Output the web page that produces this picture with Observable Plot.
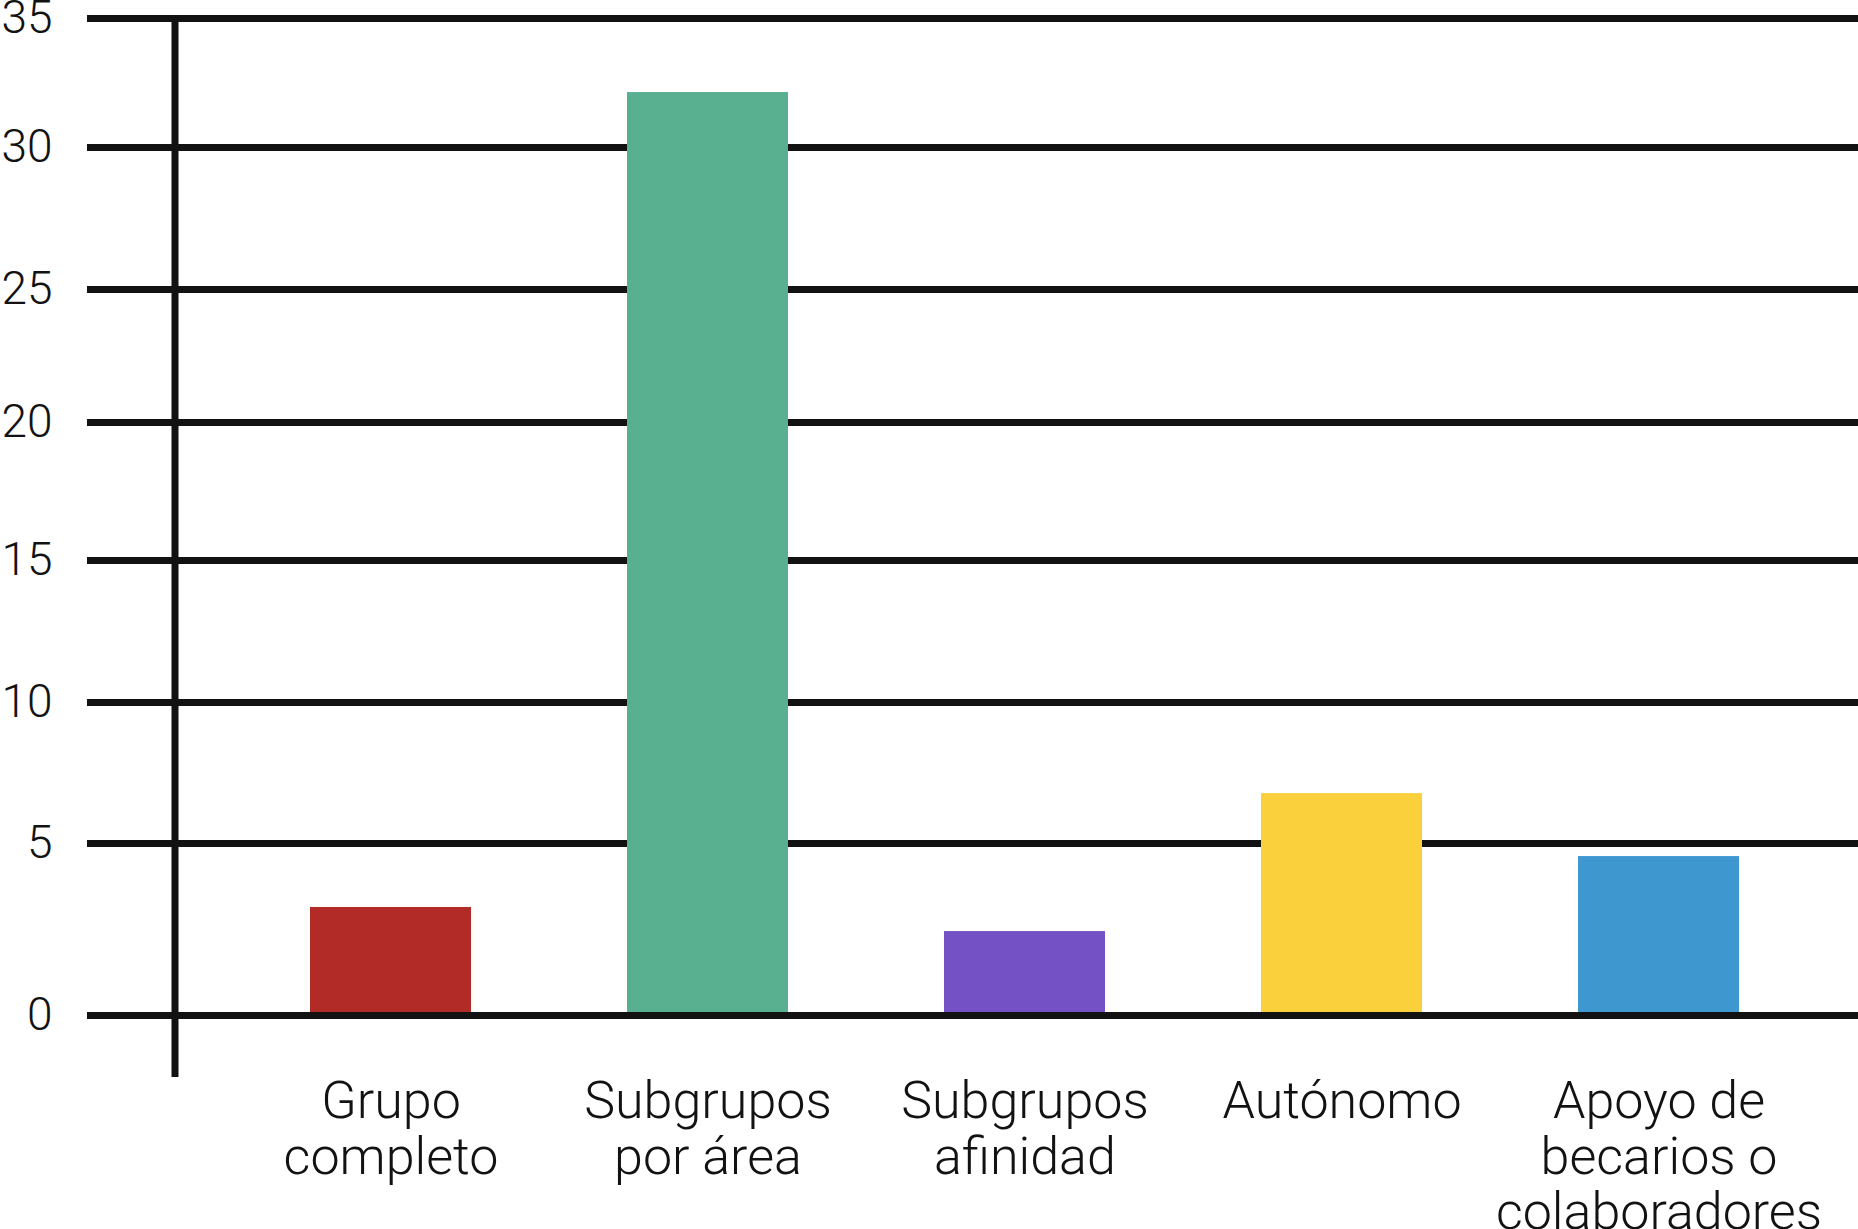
<!DOCTYPE html>
<html>
<head>
<meta charset="utf-8">
<script src="https://cdn.jsdelivr.net/npm/d3@7"></script>
<script src="https://cdn.jsdelivr.net/npm/@observablehq/plot@0.6"></script>
<style>
  html, body { margin: 0; padding: 0; background: #fff; }
  svg { display: block; }
</style>
</head>
<body>
<div id="chart"></div>
<script>
// Data
const categories = ["Grupo completo", "Subgrupos por área", "Subgrupos afinidad", "Autónomo", "Apoyo de becarios o colaboradores"];
const values = [3.14, 32.13, 2.44, 6.77, 4.62];
const colors = ["#B22B27", "#58B091", "#7452C6", "#FAD13C", "#3E97CF"];
const xTickLabels = ["Grupo\ncompleto", "Subgrupos\npor área", "Subgrupos\nafinidad", "Autónomo", "Apoyo de\nbecarios o\ncolaboradores"];
const yTicks = [0, 5, 10, 15, 20, 25, 30, 35];

// The reference's gridlines are unevenly spaced: piecewise y range (pixels)
const yRangePx = [1015, 843, 702, 560, 422, 289, 147, 18];

const data = categories.map((c, i) => ({category: c, value: values[i], color: colors[i]}));
const labelOf = new Map(categories.map((c, i) => [c, xTickLabels[i]]));

const ink = "#121212";

const chart = Plot.plot({
  width: 1858,
  height: 1229,
  marginLeft: 87,
  marginRight: 0,
  marginTop: 18,
  marginBottom: 156,
  style: {fontFamily: "Roboto, 'Open Sans', sans-serif", color: ink, background: "#fff"},
  x: {
    domain: categories,
    paddingInner: 0.493,
    paddingOuter: 0.2465,
    insetLeft: 144.5,
    insetRight: 40.5
  },
  y: {
    type: "linear",
    domain: yTicks,
    range: yRangePx
  },
  marks: [
    Plot.ruleY(yTicks.filter(d => d !== 0), {stroke: ink, strokeWidth: 7}),
    Plot.barY(data, {x: "category", y: "value", fill: "color"}),
    Plot.ruleY([0], {stroke: ink, strokeWidth: 7}),
    Plot.frame({anchor: "left", insetLeft: 87.5, stroke: ink, strokeWidth: 7}),
    Plot.axisY({
      ticks: yTicks,
      tickSize: 0,
      tickPadding: 35,
      fontSize: 46,
      fontWeight: 300,
      fill: ink,
      label: null
    }),
    Plot.axisX({
      tickSize: 0,
      tickPadding: 5,
      fontSize: 52,
      fontWeight: 300,
      lineHeight: 1.07,
      fill: ink,
      label: null,
      tickFormat: d => labelOf.get(d)
    })
  ]
});

document.getElementById("chart").appendChild(chart);
</script>
</body>
</html>
